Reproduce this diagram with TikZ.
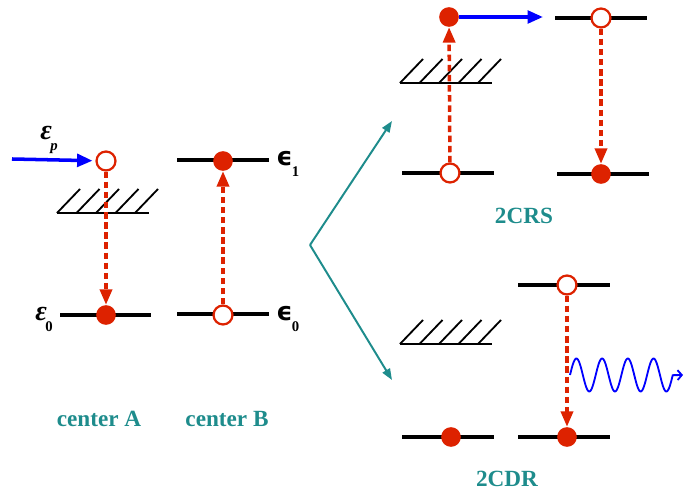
\documentclass[tikz,border=0pt]{standalone}
\usepackage{fontspec}
\setmainfont{Liberation Serif}
\newfontfamily\epsfont{DejaVu Sans}
\usepackage{xcolor}
\usetikzlibrary{arrows.meta, positioning, calc}
\definecolor{levred}{HTML}{DD2200}
\definecolor{pumpblue}{HTML}{0000FF}
\definecolor{tealtext}{HTML}{1E8C8C}
\tikzset{
  levelline/.style={line width=2.8pt, black},
  fulldot/.style={
    circle, fill=levred, inner sep=0pt, minimum size=14pt
  },
  emptydot/.style={
    circle, draw=levred, line width=1.6pt, fill=white,
    inner sep=0pt, minimum size=13.5pt
  },
  transarrow/.style={
    -{Triangle[length=11pt, width=8.5pt]}, levred, line width=2.5pt,
    dash pattern=on 4.6pt off 2.6pt
  },
  pumparrow/.style={
    -{Triangle[length=11pt, width=9pt]}, pumpblue, line width=2.5pt
  },
  brancharrow/.style={
    -{Triangle[length=8pt, width=6pt]}, tealtext, line width=1.4pt
  },
  centerlabel/.style={
    font=\bfseries\fontsize{16.5}{18}\selectfont, text=tealtext
  },
  epslabel/.style={anchor=base west, inner sep=0pt},
  hatchband/.pic={
    \draw[line width=2pt] (0,0) -- (92,0);
    \foreach \i in {0,...,4}
      \draw[line width=1.3pt] ({19.5*\i},0) -- ++(23,-24);
  },
}
\newcommand{\epsA}[1]{%
  {\fontsize{20}{20}\selectfont\bfseries\itshape ε}\hspace{-1pt}%
  \raisebox{-7.8pt}{\fontsize{10.5}{10.5}\selectfont\bfseries #1}}
\newcommand{\epsB}[1]{%
  {\epsfont\fontsize{18}{18}\selectfont\bfseries ϵ}\hspace{-0.5pt}%
  \raisebox{-7.8pt}{\fontsize{10.5}{10.5}\selectfont\bfseries #1}}

\begin{document}
\begin{tikzpicture}[x=0.025cm, y=-0.025cm]
  \useasboundingbox (0,0) rectangle (700,491);

  % Center A
  \pic at (57,213) {hatchband};
  \draw[levelline] (60,315) -- (151,315);
  \node[emptydot] (pA) at (106,161) {};
  \node[fulldot] (dA) at (106,315) {};
  \coordinate (pumpA) at (12,159);
  \node[epslabel] (epsP) at (40,140) {\epsA{\itshape p}};
  \node[epslabel] (eps0A) at (35,321) {\epsA{0}};
  \draw[pumparrow, shorten >=2pt] (pumpA) -- (pA);
  \draw[transarrow] (pA) -- (dA);
  \node[centerlabel] (labA) at (99,419) {center A};

  % Center B
  \draw[levelline] (177,160) -- (269,160);
  \draw[levelline] (177,314) -- (269,314);
  \node[fulldot] (dB) at (223,161) {};
  \node[emptydot] (oB) at (223,315) {};
  \node[epslabel] (eps1B) at (276,166) {\epsB{1}};
  \node[epslabel] (eps0B) at (276,321) {\epsB{0}};
  \draw[transarrow] (oB) -- (dB);
  \node[centerlabel] (labB) at (227,419) {center B};

  % Branching
  \coordinate (fork) at (310,245);
  \coordinate (toCRS) at (392,121);
  \coordinate (toCDR) at (392,380);
  \draw[brancharrow] (fork) -- (toCRS);
  \draw[brancharrow] (fork) -- (toCDR);

  % 2CRS
  \pic at (400,83) {hatchband};
  \draw[levelline] (402,173) -- (494,173);
  \draw[levelline] (555,18) -- (647,18);
  \draw[levelline] (557,174) -- (649,174);
  \node[fulldot] (dL) at (449,17) {};
  \node[emptydot] (oL) at (450,173) {};
  \node[emptydot] (oR) at (601,18) {};
  \node[fulldot] (dR) at (601,174) {};
  \coordinate (pumpL) at (543,17);
  \draw[pumparrow] (dL) -- (pumpL);
  \draw[transarrow] (oL) -- (dL);
  \draw[transarrow] (oR) -- (dR);
  \node[centerlabel] (labCRS) at (524,216) {2CRS};

  % 2CDR
  \pic at (400,344) {hatchband};
  \draw[levelline] (402,437) -- (494,437);
  \draw[levelline] (518,285) -- (610,285);
  \draw[levelline] (518,437) -- (610,437);
  \node[fulldot] (dC) at (451,437) {};
  \node[emptydot] (oT) at (567,285) {};
  \node[fulldot] (dT) at (567,437) {};
  \draw[transarrow] (oT) -- (dT);
  \draw[pumpblue, line width=1.3pt, -{Straight Barb[length=3pt, width=7pt]}]
    plot[domain=0:4, samples=160] ({570+25.7*\x}, {375-16.5*sin(360*\x)})
    -- (683,375);
  \node[centerlabel] (labCDR) at (507,479) {2CDR};
\end{tikzpicture}
\end{document}
